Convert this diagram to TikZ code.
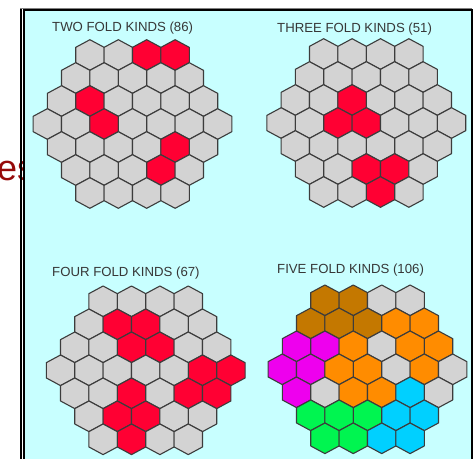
\documentclass[tikz,border=0pt]{standalone}
\usepackage{fontspec}
\setmainfont{Liberation Sans}
\usepackage{tikz}

\definecolor{panel}{RGB}{200,255,255}
\definecolor{hg}{RGB}{211,211,211}
\definecolor{hr}{RGB}{255,0,51}
\definecolor{hb}{RGB}{196,120,0}
\definecolor{ho}{RGB}{255,140,0}
\definecolor{hm}{RGB}{238,0,238}
\definecolor{hv}{RGB}{0,245,80}
\definecolor{hc}{RGB}{0,208,255}
\definecolor{hedge}{RGB}{60,60,60}
\definecolor{captiongray}{RGB}{55,55,55}
\definecolor{slidered}{RGB}{150,10,10}

\tikzset{
  hexcell/.style={draw=hedge,line width=1.1pt,line join=round},
  boardtitle/.style={anchor=west,text=captiongray,font=\fontsize{13.2}{15}\selectfont,inner sep=0pt}
}

% one board: centre x, centre y, colours row by row
\newcommand{\hexboard}[3]{%
  \foreach \row [count=\r from 0] in {#3} {
    \pgfmathsetmacro\n{7-abs(\r-3)}
    \foreach \col [count=\k from 0] in \row {
      \pgfmathsetmacro\hx{#1+(\k-(\n-1)/2)*28.4}
      \pgfmathsetmacro\hy{#2+(\r-3)*23}
      \draw[hexcell,fill=\col] (\hx,\hy) ++(0,-15.3) -- ++(14.2,7.65) -- ++(0,15.3)
        -- ++(-14.2,7.65) -- ++(-14.2,-7.65) -- ++(0,-15.3) -- cycle;
    }
  }
}

\begin{document}
\begin{tikzpicture}[x=1pt,y=-1pt]
\useasboundingbox (0,0) rectangle (476,458);

% text behind the window
\node[anchor=base west,inner sep=0pt,text=slidered,font=\fontsize{36}{38}\selectfont] (es) at (-3,180) {es};

% window
\draw[line width=2pt,fill=panel] (24.3,10.3) rectangle (472,475);
\draw[line width=2pt] (21,475) -- (21,8);
\draw[gray,line width=1pt] (20,8) -- (472,8);

% boards
\node[boardtitle] (twofold) at (52,28.5) {TWO FOLD KINDS (86)};
\hexboard{132.5}{124}{{hg,hg,hr,hr},{hg,hg,hg,hg,hg},{hg,hr,hg,hg,hg,hg},{hg,hg,hr,hg,hg,hg,hg},{hg,hg,hg,hg,hr,hg},{hg,hg,hg,hr,hg},{hg,hg,hg,hg}}

\node[boardtitle] (threefold) at (277,29) {THREE FOLD KINDS (51)};
\hexboard{366.3}{123}{{hg,hg,hg,hg},{hg,hg,hg,hg,hg},{hg,hg,hr,hg,hg,hg},{hg,hg,hr,hr,hg,hg,hg},{hg,hg,hg,hg,hg,hg},{hg,hg,hr,hr,hg},{hg,hg,hr,hg}}

\node[boardtitle] (fourfold) at (52,273.5) {FOUR FOLD KINDS (67)};
\hexboard{145.7}{370.3}{{hg,hg,hg,hg},{hg,hr,hr,hg,hg},{hg,hg,hr,hr,hg,hg},{hg,hg,hg,hg,hg,hr,hr},{hg,hg,hr,hg,hr,hr},{hg,hr,hr,hg,hg},{hg,hr,hg,hg}}

\node[boardtitle] (fivefold) at (277,270) {FIVE FOLD KINDS (106)};
\hexboard{367.5}{369.3}{{hb,hb,hg,hg},{hb,hb,hb,ho,ho},{hm,hm,ho,hg,ho,ho},{hm,hm,ho,ho,hg,ho,hg},{hm,hg,ho,ho,hc,hg},{hv,hv,hv,hc,hc},{hv,hv,hc,hc}}

\end{tikzpicture}
\end{document}
